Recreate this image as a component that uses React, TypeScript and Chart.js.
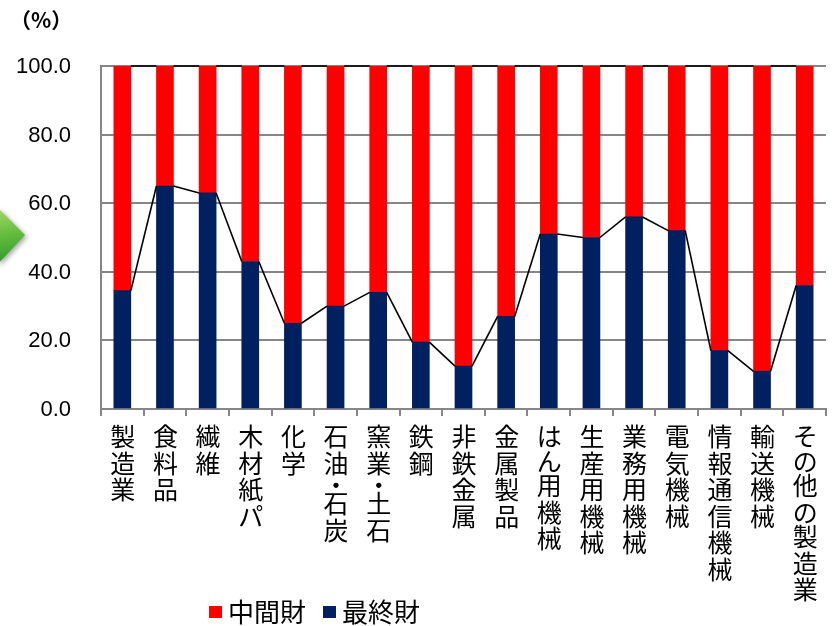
import React, { useEffect, useRef } from "react";
import { Chart, registerables } from "chart.js";

Chart.register(...registerables);

const categories = ["製造業","食料品","繊維","木材紙パ","化学","石油・石炭","窯業・土石","鉄鋼","非鉄金属","金属製品","はん用機械","生産用機械","業務用機械","電気機械","情報通信機械","輸送機械","その他の製造業"];
const finalGoods = [34.5,65,63,43,25,30,34,19.5,12.5,27,51,50,56,52,17,11,36];
const intermediateGoods = finalGoods.map((v) => 100 - v);
const yTicks = [0,20,40,60,80,100];
const unitLabel = "（%）";
const CJK = '"Noto Sans CJK JP", sans-serif';
const LATIN = '"Liberation Sans", Arial, sans-serif';

const overlay = {
  id: "overlay",
  beforeDraw(chart: any) {
    const ctx = chart.ctx;
    ctx.save();
    // green arrow decoration, cropped by left edge
    ctx.shadowColor = "rgba(0,0,0,0.35)";
    ctx.shadowBlur = 5;
    ctx.shadowOffsetX = 2;
    ctx.shadowOffsetY = 2;
    const g = ctx.createLinearGradient(0, 208, 10, 264);
    g.addColorStop(0, "#a4d868");
    g.addColorStop(0.5, "#62bb3c");
    g.addColorStop(1, "#2b9a2e");
    ctx.fillStyle = g;
    ctx.beginPath();
    ctx.moveTo(-2, 208);
    ctx.lineTo(25, 235);
    ctx.lineTo(-2, 264);
    ctx.closePath();
    ctx.fill();
    ctx.restore();
  },
  afterDatasetsDraw(chart: any) {
    const ctx = chart.ctx;
    const meta = chart.getDatasetMeta(0);
    const metaTop = chart.getDatasetMeta(1);
    ctx.save();
    ctx.strokeStyle = "#000";
    ctx.lineWidth = 1.6;
    const link = (els: any[]) => {
      for (let i = 0; i < els.length - 1; i++) {
        const a = els[i], b = els[i + 1];
        ctx.beginPath();
        ctx.moveTo(a.x + a.width / 2, a.y);
        ctx.lineTo(b.x - b.width / 2, b.y);
        ctx.stroke();
      }
    };
    link(meta.data);
    link(metaTop.data);
    ctx.restore();
  },
  afterDraw(chart: any) {
    const ctx = chart.ctx;
    const xs = chart.scales.x;
    ctx.save();
    ctx.fillStyle = "#000";
    ctx.textAlign = "center";
    ctx.textBaseline = "top";
    ctx.font = `25px ${CJK}`;
    categories.forEach((label, i) => {
      const x = xs.getPixelForTick(i) + 0.5;
      let y = 425;
      for (const ch of label) {
        if (ch === "・") {
          ctx.fillText(ch, x, y - 5);
          y += 14;
        } else {
          ctx.fillText(ch, x, y - 1);
          y += /[ぁ-ん]/.test(ch) ? 24.5 : 26.6;
        }
      }
    });
    // unit
    ctx.textAlign = "left";
    ctx.textBaseline = "middle";
    ctx.font = `bold 21px ${CJK}`;
    ctx.fillText(unitLabel, 10, 20);
    // legend
    ctx.font = `26px ${CJK}`;
    const entries = [1, 0].map((i) => chart.data.datasets[i]);
    const lefts = [209, 323];
    entries.forEach((d: any, i: number) => {
      ctx.fillStyle = d.backgroundColor;
      ctx.fillRect(lefts[i], 606, 13, 12);
      ctx.fillStyle = "#000";
      ctx.fillText(d.label, lefts[i] + 19, 612);
    });
    ctx.restore();
  },
};

export default function App() {
  const ref = useRef<HTMLCanvasElement>(null);
  useEffect(() => {
    const chart = new Chart(ref.current!, {
      type: "bar",
      data: {
        labels: categories,
        datasets: [
          { label: "最終財", data: finalGoods, backgroundColor: "#002060", barThickness: 17 },
          { label: "中間財", data: intermediateGoods, backgroundColor: "#ff0000", barThickness: 17 },
        ],
      },
      options: {
        animation: false,
        responsive: false,
        layout: { padding: { top: 66, right: 7, bottom: 0, left: 0 } },
        plugins: { legend: { display: false }, tooltip: { enabled: false } },
        scales: {
          x: {
            stacked: true,
            grid: { display: true, drawOnChartArea: false, color: "#868686", lineWidth: 2, tickLength: 7, offset: true },
            border: { color: "#868686", width: 2 },
            ticks: { display: false },
            afterFit: (s: any) => { s.height = 217; },
          },
          y: {
            stacked: true,
            min: 0,
            max: 100,
            afterBuildTicks: (s: any) => { s.ticks = yTicks.map((value) => ({ value })); },
            grid: { color: "#868686", lineWidth: 2, tickLength: 0 },
            border: { color: "#868686", width: 2 },
            ticks: {
              color: "#000",
              padding: 30,
              labelOffset: 1,
              font: { family: LATIN, size: 22 },
              callback: (v: any) => Number(v).toFixed(1),
            },
            afterFit: (s: any) => { s.width = 101; },
          },
        },
      },
      plugins: [overlay],
    } as any);
    return () => chart.destroy();
  }, []);
  return (
    <div style={{ position: "fixed", left: 0, top: 0, width: 833, height: 626, background: "#fff" }}>
      <canvas ref={ref} width={833} height={626} style={{ display: "block" }} />
    </div>
  );
}
